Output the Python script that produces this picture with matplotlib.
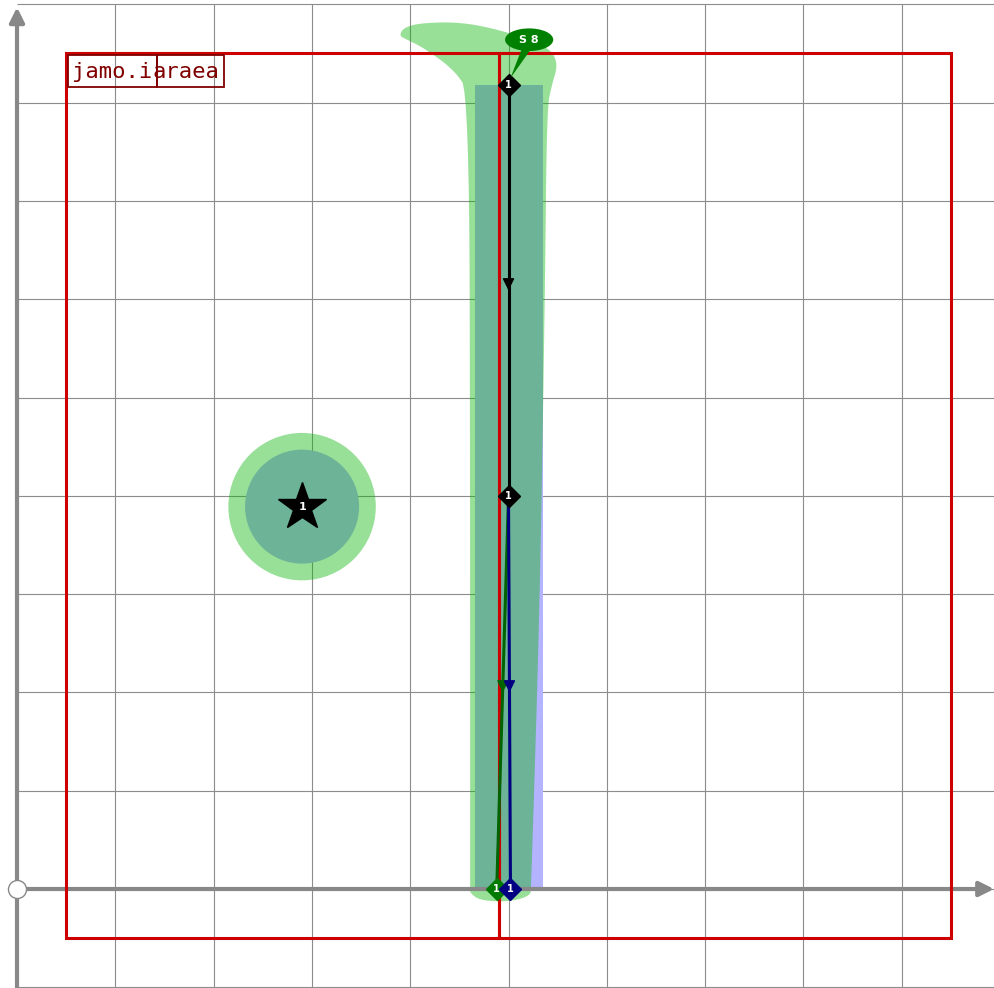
import matplotlib
matplotlib.use("Agg")
from matplotlib import pyplot as plt
from matplotlib.patches import Rectangle, Circle, Ellipse, Polygon
import numpy as np

# grid / axes extent (data units)
grid_x = list(range(1, 10))
grid_y = list(range(-1, 10))

# red boxes: (x0, y0, width, height)
red_boxes = [(0.5, -0.5, 4.4, 9.0), (4.9, -0.5, 4.6, 9.0)]

# label boxes in the top left corner
label_texts = ["jamo.i", "araea"]
label_boxes = [(0.52, 8.16, 0.90, 0.32), (1.42, 8.16, 0.69, 0.32)]

# round target with star
star_x, star_y = 2.9, 3.89
ring_outer, ring_inner = 0.75, 0.58

# column (lavender) and green blob around it
column_x0, column_x1 = 4.66, 5.35
column_top = 8.18
blob_x = [3.89, 3.93, 4.10, 4.51, 4.91, 5.27, 5.45, 5.50, 5.44, 5.39, 5.37, 5.32,
          5.23, 5.22, 5.10, 4.91, 4.70, 4.61, 4.61, 4.61, 4.60, 4.45, 4.15, 3.95]
blob_y = [8.68, 8.76, 8.81, 8.82, 8.74, 8.62, 8.52, 8.37, 8.18, 7.93, 5.99, 2.94,
          0.00, -0.06, -0.11, -0.13, -0.11, -0.04, 0.00, 3.96, 8.10, 8.33, 8.55, 8.65]

# path nodes
black_x = [5.0, 5.0, 5.0]
black_y = [8.18, 4.0, 0.0]
green_x = [5.0, 4.88]
green_y = [4.0, 0.0]
navy_x = [5.0, 5.02]
navy_y = [4.0, 0.0]

callout_text = "S 8"
callout_x, callout_y = 5.21, 8.64


def chaikin(pts, n=3):
    # rounds the corners of a closed outline
    pts = np.asarray(pts, dtype=float)
    for _ in range(n):
        nxt = np.roll(pts, -1, axis=0)
        q = 0.75 * pts + 0.25 * nxt
        r = 0.25 * pts + 0.75 * nxt
        pts = np.empty((2 * len(q), 2))
        pts[0::2] = q
        pts[1::2] = r
    return pts


fig = plt.figure(figsize=(9.94, 9.88), dpi=100)
ax = fig.add_axes([0, 0, 1, 1])
ax.set_xlim(-0.173, 9.939)
ax.set_ylim(-1.007, 9.044)
ax.set_aspect("equal")
ax.axis("off")

# grid
grid_col = "#8c8c8c"
ax.vlines(grid_x, -1.1, 9.0, color=grid_col, lw=0.8, zorder=0)
ax.hlines(grid_y, 0, 10, color=grid_col, lw=0.8, zorder=0)

# lavender shapes underneath
ax.add_patch(Rectangle((column_x0, 0), column_x1 - column_x0, column_top,
                       facecolor="#b3b3ff", edgecolor="none", zorder=1))
ax.add_patch(Circle((star_x, star_y), ring_inner, facecolor="#b3b3ff",
                    edgecolor="none", zorder=1))

# green translucent blobs
green = "#0ab40a"
ax.add_patch(Polygon(chaikin(list(zip(blob_x, blob_y))), closed=True,
                     facecolor=green, alpha=0.42, edgecolor="none", zorder=2))
ax.add_patch(Circle((star_x, star_y), ring_outer, facecolor=green,
                    alpha=0.42, edgecolor="none", zorder=2))

# main axes with arrows
axis_col = "#888888"
ax.annotate("", xy=(9.94, 0), xytext=(0, 0),
            arrowprops=dict(arrowstyle="-|>", color=axis_col, lw=3,
                            mutation_scale=22, shrinkA=0, shrinkB=0), zorder=3)
ax.annotate("", xy=(0, 8.97), xytext=(0, -1.01),
            arrowprops=dict(arrowstyle="-|>", color=axis_col, lw=3,
                            mutation_scale=22, shrinkA=0, shrinkB=0), zorder=3)

# red boxes
for x0, y0, w, h in red_boxes:
    ax.add_patch(Rectangle((x0, y0), w, h, fill=False, edgecolor="#cc0000",
                           lw=2.2, zorder=4))

# labels
for (x0, y0, w, h), t in zip(label_boxes, label_texts):
    ax.add_patch(Rectangle((x0, y0), w, h, fill=False, edgecolor="#800000",
                           lw=1.3, zorder=5))
ax.text(label_boxes[0][0] + 0.04, label_boxes[0][1] + 0.15, label_texts[0],
        family="DejaVu Sans Mono", fontsize=16, color="#800000",
        va="center", ha="left", zorder=6)
ax.text(label_boxes[1][0] + label_boxes[1][2] - 0.05, label_boxes[1][1] + 0.15,
        label_texts[1], family="DejaVu Sans Mono", fontsize=16,
        color="#800000", va="center", ha="right", zorder=6)

# path lines
ax.plot(green_x, green_y, color="#006400", lw=2.2, zorder=6)
ax.plot(navy_x, navy_y, color="#000080", lw=2.2, zorder=6)
ax.plot(black_x[:2], black_y[:2], color="black", lw=2.2, zorder=7)


# arrow heads along the lines
def mid_arrow(x0, y0, x1, y1, col):
    xm, ym = (x0 + x1) / 2, (y0 + y1) / 2
    ax.annotate("", xy=(xm, ym), xytext=(xm - (x1 - x0) * 0.03, ym - (y1 - y0) * 0.03),
                arrowprops=dict(arrowstyle="-|>", color=col, lw=1,
                                mutation_scale=18, shrinkA=0, shrinkB=0), zorder=8)


mid_arrow(black_x[0], black_y[0], black_x[1], black_y[1], "black")
mid_arrow(green_x[0], green_y[0], green_x[1], green_y[1], "#006400")
mid_arrow(navy_x[0], navy_y[0], navy_x[1], navy_y[1], "#000080")

# star
ax.plot(star_x, star_y, marker="*", ms=36, color="black", zorder=8)
ax.text(star_x, star_y, "1", color="white", fontsize=8, fontweight="bold",
        ha="center", va="center", zorder=9)

# diamonds
nodes = [(black_x[0], black_y[0], "black"), (black_x[1], black_y[1], "black"),
         (green_x[1], green_y[1], "#007a00"), (navy_x[1], navy_y[1], "#000080")]
for nx, ny, col in nodes:
    ax.plot(nx, ny, marker="D", ms=11, color=col, zorder=9)
    ax.text(nx, ny, "1", color="white", fontsize=7, fontweight="bold",
            ha="center", va="center", zorder=10)

# origin marker
ax.plot(0, 0, marker="o", ms=13, markerfacecolor="white",
        markeredgecolor=axis_col, mew=1, zorder=9)

# callout
ax.add_patch(Polygon([(callout_x - 0.07, callout_y - 0.08),
                      (callout_x + 0.03, callout_y - 0.08),
                      (black_x[0] + 0.02, black_y[0] + 0.07)],
                     closed=True, facecolor="#008000", edgecolor="none", zorder=10))
ax.add_patch(Ellipse((callout_x, callout_y), 0.49, 0.23, facecolor="#008000",
                     edgecolor="none", zorder=10))
ax.text(callout_x, callout_y, callout_text, color="white", fontsize=8,
        fontweight="bold", ha="center", va="center", zorder=11)

fig.savefig("out.png", dpi=100)
